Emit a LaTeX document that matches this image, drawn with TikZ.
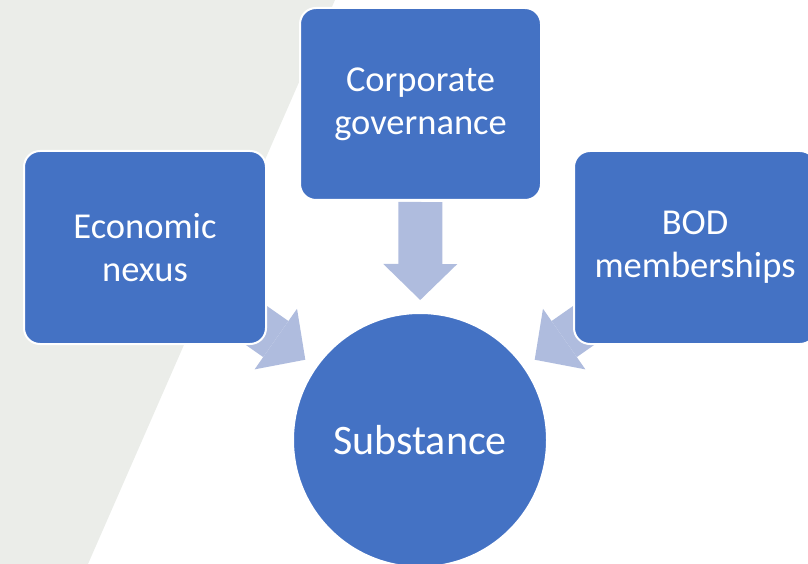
\documentclass[tikz,border=0pt]{standalone}
\usepackage{fontspec}
\setmainfont{Carlito}
\usetikzlibrary{arrows.meta,backgrounds}
\definecolor{boxblue}{RGB}{68,114,196}
\definecolor{arrowblue}{RGB}{175,188,222}
\definecolor{bggray}{RGB}{235,237,233}
\begin{document}
\begin{tikzpicture}[x=1pt, y=-1pt,
		box/.style={draw=white, line width=2pt, fill=boxblue, rounded corners=16pt, minimum width=242pt, minimum height=193pt, text=white, align=center, font=\fontsize{36.5}{43}\selectfont},
		hub/.style={circle, draw=white, line width=2pt, fill=boxblue, minimum size=254pt, text=white, font=\fontsize{42}{50}\selectfont},
		flow/.style={line width=44pt, draw=arrowblue, shorten <=98pt, shorten >=140pt, -{Triangle[length=36pt, width=74pt, line width=0pt]}}]
		\useasboundingbox (0,0) rectangle (808,564);
		\clip (0,0) rectangle (808,564);
		
		\node[box] (econ) at (145,247.5) {Economic\\nexus};
		\node[box, minimum width=241pt, minimum height=192pt] (corp) at (420.5,104) {Corporate\\governance};
		\node[box] (bod) at (695,247.5) {BOD\\memberships};
		\node[hub] (sub) at (420,440) {Substance};
		
		\begin{scope}[on background layer]
			\fill[bggray] (0,0) -- (335,0) -- (88,564) -- (0,564) -- cycle;
			\draw[flow] (econ.center) to (sub.center);
			\draw[flow] (corp.center) to (sub.center);
			\draw[flow] (bod.center) to (sub.center);
		\end{scope}
		
	\end{tikzpicture}
\end{document}
